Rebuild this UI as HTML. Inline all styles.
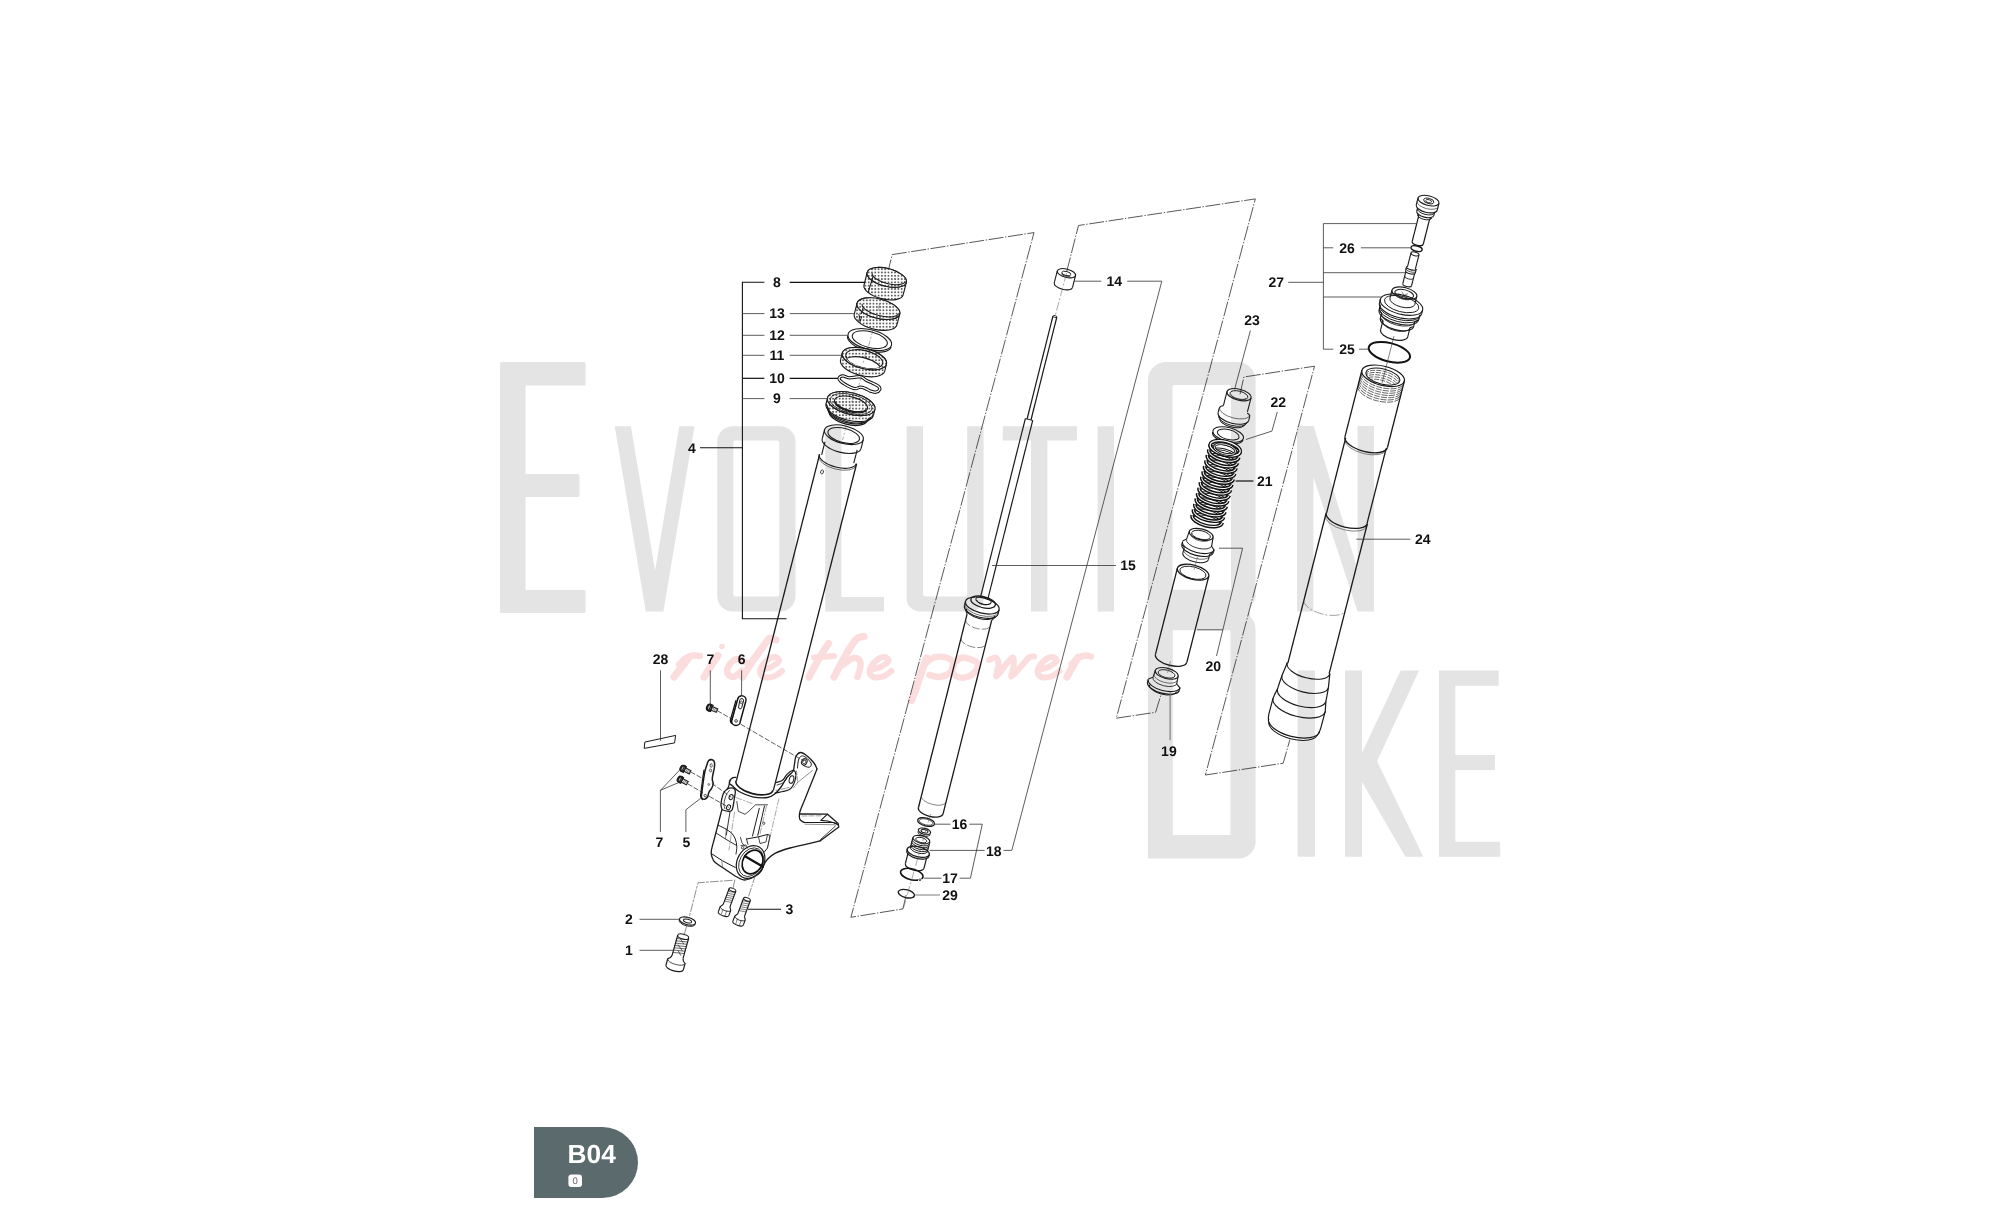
<!DOCTYPE html>
<html><head><meta charset="utf-8"><title>B04</title>
<style>html,body{margin:0;padding:0;background:#fff}body{width:2000px;height:1220px;overflow:hidden;font-family:"Liberation Sans",sans-serif}svg{display:block;will-change:transform}text{text-rendering:geometricPrecision}</style>
</head><body>
<svg width="2000" height="1220" viewBox="0 0 2000 1220">
<defs><pattern id="dots" width="3.3" height="3.3" patternUnits="userSpaceOnUse" patternTransform="rotate(-14.3)"><rect width="3.3" height="3.3" fill="#fff"/><rect x="0.8" y="0.8" width="1.75" height="1.75" fill="#606060"/></pattern></defs>
<g fill="#e4e4e4" fill-rule="evenodd">
<path d="M501.5 362H584a1.5 1.5 0 0 1 1.5 1.5V384a1.5 1.5 0 0 1 -1.5 1.5H525.6V474H578a1.5 1.5 0 0 1 1.5 1.5V495.5a1.5 1.5 0 0 1 -1.5 1.5H525.6V590H584a1.5 1.5 0 0 1 1.5 1.5V611.5a1.5 1.5 0 0 1 -1.5 1.5H501.5a1.5 1.5 0 0 1 -1.5 -1.5V363.5a1.5 1.5 0 0 1 1.5 -1.5Z"/>
<path d="M614.7 426.2H630.9L655.1 570.7L679.3 426.2H694.5L663.4 611.6H645.8Z"/>
<path d="M732.7 426.2H780A15.5 15.5 0 0 1 795.5 441.7V596A15.5 15.5 0 0 1 780 611.5H732.7A15.5 15.5 0 0 1 717.2 596V441.7A15.5 15.5 0 0 1 732.7 426.2ZM735.8 440.6H776.8A2.5 2.5 0 0 1 779.3 443.1V594.1A2.5 2.5 0 0 1 776.8 596.6H735.8A2.5 2.5 0 0 1 733.3 594.1V443.1A2.5 2.5 0 0 1 735.8 440.6Z"/>
<path d="M825.2 426.2H841.4V597H884V611.4H825.2Z"/>
<path d="M906.6 426.2H923V593.6A3 3 0 0 0 926 596.6H964.2A3 3 0 0 0 967.2 593.6V426.2H983.6V598.4A13 13 0 0 1 970.6 611.4H919.6A13 13 0 0 1 906.6 598.4Z"/>
<path d="M1002.8 426.2H1076.9V440.6H1047.4V611.4H1031V440.6H1002.8Z"/>
<path d="M1097.6 426.2H1114V611.4H1097.6Z"/>
<path d="M1166.4 361.9H1237.1A18.5 18.5 0 0 1 1255.6 380.4V596Q1255.6 602 1251 604Q1249.6 606 1249.6 609V612Q1249.6 617 1253 620Q1255.6 624 1255.6 632V841.6A17 17 0 0 1 1238.6 858.6H1147.9V380.4A18.5 18.5 0 0 1 1166.4 361.9ZM1174 385H1229.5A1.5 1.5 0 0 1 1231 386.5V589.8H1172.5V386.5A1.5 1.5 0 0 1 1174 385ZM1172.8 630.2H1230.4V835H1172.8Z"/>
<path d="M1297 426H1313.6L1357.6 569V426H1374V611.4H1357.6L1313.4 477V611.4H1297Z"/>
<path d="M1297.6 670.4H1314.9V856.8H1297.6Z"/>
<path d="M1345 670.4H1362V752.7L1400.7 670.4H1419.1L1377.1 761.2L1423.3 856.8H1405.4L1362 782V856.8H1345Z"/>
<path d="M1438.9 670.4H1498.7V685.8H1455.3V755H1494.9V770H1455.3V841.7H1500.2V856.8H1438.9Z"/>
</g>
<g><path d="M674 677C675.17 675.5 678.5 671.25 681 668C683.5 664.75 687.67 659.25 689 657.5" fill="none" stroke="#fbdddd" stroke-width="7.2" stroke-linejoin="round" stroke-linecap="round" /><path d="M679 664.5C680.17 663.42 683.67 659.5 686 658C688.33 656.5 690.67 655.83 693 655.5C695.33 655.17 698.83 655.92 700 656" fill="none" stroke="#fbdddd" stroke-width="6.4" stroke-linejoin="round" stroke-linecap="round" /><path d="M704 677C705.17 675.17 708.67 669.58 711 666C713.33 662.42 716.83 657.25 718 655.5" fill="none" stroke="#fbdddd" stroke-width="7.2" stroke-linejoin="round" stroke-linecap="round" /><circle cx="722" cy="646.5" r="2.8" fill="#fbdddd"/><path d="M746 662.5C744.5 661.92 739.83 658.5 737 659C734.17 659.5 730.58 663.08 729 665.5C727.42 667.92 726.75 671.58 727.5 673.5C728.25 675.42 731.17 677.42 733.5 677C735.83 676.58 740.17 672 741.5 671" fill="none" stroke="#fbdddd" stroke-width="6.4" stroke-linejoin="round" stroke-linecap="round" /><path d="M742.5 677C744.08 674.5 748.75 666.83 752 662C755.25 657.17 759.08 651.92 762 648C764.92 644.08 767.17 639.83 769.5 638.5C771.83 637.17 774.92 639.75 776 640" fill="none" stroke="#fbdddd" stroke-width="7.2" stroke-linejoin="round" stroke-linecap="round" /><path d="M762 669.5C763.5 669.08 768.17 668.42 771 667C773.83 665.58 778.33 662.67 779 661C779.67 659.33 776.83 657.25 775 657C773.17 656.75 770.25 657.83 768 659.5C765.75 661.17 762.75 664.58 761.5 667C760.25 669.42 759.75 672.25 760.5 674C761.25 675.75 763.58 677.17 766 677.5C768.42 677.83 772.33 677.08 775 676C777.67 674.92 780.83 671.83 782 671" fill="none" stroke="#fbdddd" stroke-width="6.0" stroke-linejoin="round" stroke-linecap="round" /><path d="M809 677C810.17 674.83 813.67 668.17 816 664C818.33 659.83 820.92 655.42 823 652C825.08 648.58 827.58 644.92 828.5 643.5" fill="none" stroke="#fbdddd" stroke-width="7.2" stroke-linejoin="round" stroke-linecap="round" /><path d="M814 657.5C815.67 657.38 820.67 657.05 824 656.8C827.33 656.55 832.33 656.13 834 656" fill="none" stroke="#fbdddd" stroke-width="5.8" stroke-linejoin="round" stroke-linecap="round" /><path d="M834 677C835.33 674.5 839.33 666.83 842 662C844.67 657.17 847.5 651.92 850 648C852.5 644.08 854.67 640.42 857 638.5C859.33 636.58 862.83 636.83 864 636.5" fill="none" stroke="#fbdddd" stroke-width="7.2" stroke-linejoin="round" stroke-linecap="round" /><path d="M843 665C844.5 663.92 849.33 659.42 852 658.5C854.67 657.58 857.58 658.25 859 659.5C860.42 660.75 860.75 663.08 860.5 666C860.25 668.92 858 675.17 857.5 677" fill="none" stroke="#fbdddd" stroke-width="6.4" stroke-linejoin="round" stroke-linecap="round" /><path d="M871.5 669.5C873 669.08 877.67 668.42 880.5 667C883.33 665.58 887.83 662.67 888.5 661C889.17 659.33 886.33 657.25 884.5 657C882.67 656.75 879.75 657.83 877.5 659.5C875.25 661.17 872.25 664.58 871 667C869.75 669.42 869.25 672.25 870 674C870.75 675.75 873.08 677.17 875.5 677.5C877.92 677.83 881.83 677.08 884.5 676C887.17 674.92 890.33 671.83 891.5 671" fill="none" stroke="#fbdddd" stroke-width="6.0" stroke-linejoin="round" stroke-linecap="round" /><path d="M911.5 700.5C912.42 698.08 915.25 690.92 917 686C918.75 681.08 920.42 675.67 922 671C923.58 666.33 925.75 660.17 926.5 658" fill="none" stroke="#fbdddd" stroke-width="7.2" stroke-linejoin="round" stroke-linecap="round" /><path d="M924 664.5C925.67 663.33 930.33 658.67 934 657.5C937.67 656.33 942.75 656.58 946 657.5C949.25 658.42 952.75 660.58 953.5 663C954.25 665.42 952.75 669.67 950.5 672C948.25 674.33 943.5 676.5 940 677C936.5 677.5 931.25 675.33 929.5 675" fill="none" stroke="#fbdddd" stroke-width="6.4" stroke-linejoin="round" stroke-linecap="round" /><path d="M973.5 660.5C971.08 659.58 966.17 657.08 963 657.5C959.83 657.92 956.25 660.67 954.5 663C952.75 665.33 951.92 669.17 952.5 671.5C953.08 673.83 955.33 676.17 958 677C960.67 677.83 965.42 677.67 968.5 676.5C971.58 675.33 975 672.25 976.5 670C978 667.75 978 664.58 977.5 663C977 661.42 975.92 661.42 973.5 660.5Z" fill="none" stroke="#fbdddd" stroke-width="6.4" stroke-linejoin="round" stroke-linecap="round" /><path d="M989 660C990.08 659.58 993.92 656.83 995.5 657.5C997.08 658.17 998.33 660.83 998.5 664C998.67 667.17 995.25 676.42 996.5 676.5C997.75 676.58 1003.25 667.67 1006 664.5C1008.75 661.33 1011.75 657.08 1013 657.5C1014.25 657.92 1013.75 663.83 1013.5 667C1013.25 670.17 1010.17 676.67 1011.5 676.5C1012.83 676.33 1018.58 669.17 1021.5 666C1024.42 662.83 1026.92 659.08 1029 657.5C1031.08 655.92 1033.17 656.67 1034 656.5" fill="none" stroke="#fbdddd" stroke-width="6.0" stroke-linejoin="round" stroke-linecap="round" /><path d="M1039.5 669.5C1041 669.08 1045.67 668.42 1048.5 667C1051.33 665.58 1055.83 662.67 1056.5 661C1057.17 659.33 1054.33 657.25 1052.5 657C1050.67 656.75 1047.75 657.83 1045.5 659.5C1043.25 661.17 1040.25 664.58 1039 667C1037.75 669.42 1037.25 672.25 1038 674C1038.75 675.75 1041.08 677.17 1043.5 677.5C1045.92 677.83 1049.83 677.08 1052.5 676C1055.17 674.92 1058.33 671.83 1059.5 671" fill="none" stroke="#fbdddd" stroke-width="6.0" stroke-linejoin="round" stroke-linecap="round" /><path d="M1067 677C1067.83 675.42 1070.17 670.75 1072 667.5C1073.83 664.25 1077 659.17 1078 657.5" fill="none" stroke="#fbdddd" stroke-width="7.2" stroke-linejoin="round" stroke-linecap="round" /><path d="M1071.5 664C1072.58 663 1075.75 659.42 1078 658C1080.25 656.58 1082.83 655.75 1085 655.5C1087.17 655.25 1090 656.33 1091 656.5" fill="none" stroke="#fbdddd" stroke-width="6.4" stroke-linejoin="round" stroke-linecap="round" /></g>
<path d="M887.4 274 L892.2 254.6 L1034 232.6 L850.9 917.3 L902.9 908.9 L906.4 894" fill="none" stroke="#222" stroke-width="0.75" stroke-dasharray="15 1.6 1.4 1.6"/><path d="M1066.6 272 L1078.5 225.5 L1255.3 198.9 L1116.3 718.2 L1155.6 712.3 L1161.5 693.1" fill="none" stroke="#222" stroke-width="0.75" stroke-dasharray="15 1.6 1.4 1.6"/><path d="M1240 394.2 L1243.9 377 L1314.5 366.2 L1205.4 775 L1283.2 763.2 L1289.9 739.6" fill="none" stroke="#222" stroke-width="0.75" stroke-dasharray="15 1.6 1.4 1.6"/>
<defs><clipPath id="c11"><ellipse cx="0" cy="0.4" rx="19" ry="8.36"/></clipPath><clipPath id="c24"><ellipse cx="0" cy="0.8" rx="17.4" ry="7.66"/></clipPath></defs><g transform="translate(886.8,277.4) rotate(14.3)"><path d="M-20.2 0L-20.2 13A20.2 8.89 0 0 0 20.2 13L20.2 0A20.2 8.89 0 0 0 -20.2 0Z" fill="url(#dots)" stroke="none"/><ellipse cx="0" cy="0" rx="20.2" ry="8.89" fill="none" stroke="#1a1a1a" stroke-width="1.1" /><line x1="-20.2" y1="0" x2="-20.2" y2="13" stroke="#1a1a1a" stroke-width="1.1" /><line x1="20.2" y1="0" x2="20.2" y2="13" stroke="#1a1a1a" stroke-width="1.1" /><path d="M-20.2 13A20.2 8.89 0 0 0 20.2 13" fill="none" stroke="#1a1a1a" stroke-width="1.1" /><ellipse cx="0" cy="0" rx="20.2" ry="8.89" fill="url(#dots)" stroke="#1a1a1a" stroke-width="1.1" /><path d="M-15.2 -0.6A17 6.4 0 0 0 18.8 -0.6" fill="none" stroke="#1a1a1a" stroke-width="1.1" /><line x1="-13.6" y1="2.6" x2="-14.4" y2="19.4" stroke="#1a1a1a" stroke-width="1.1" /></g>
<g transform="translate(878.4,308.6) rotate(14.3)"><path d="M-22 0L-22 11.3A22 9.68 0 0 0 22 11.3L22 0A22 9.68 0 0 0 -22 0Z" fill="url(#dots)" stroke="none"/><ellipse cx="0" cy="0" rx="22" ry="9.68" fill="none" stroke="#1a1a1a" stroke-width="1.1" /><line x1="-22" y1="0" x2="-22" y2="11.3" stroke="#1a1a1a" stroke-width="1.1" /><line x1="22" y1="0" x2="22" y2="11.3" stroke="#1a1a1a" stroke-width="1.1" /><path d="M-22 11.3A22 9.68 0 0 0 22 11.3" fill="none" stroke="#1a1a1a" stroke-width="1.1" /><ellipse cx="0" cy="0" rx="22" ry="9.68" fill="url(#dots)" stroke="#1a1a1a" stroke-width="1.1" /><path d="M-16.8 -0.4A18.8 7 0 0 0 20.8 -0.4" fill="none" stroke="#1a1a1a" stroke-width="1.1" /><path d="M-15 3.2 L-15.4 9.5 M-17.8 10.5Q-15.6 12 -16 17.4 M-14.2 11.4L-14.6 18.2" fill="none" stroke="#1a1a1a" stroke-width="1.0" /></g>
<line x1="879.5" y1="304" x2="877.6" y2="311.5" stroke="#555" stroke-width="0.5" stroke-dasharray="7 2 2 2"/><g transform="translate(869.8,339.6) rotate(14.3)"><ellipse cx="0" cy="0" rx="22.4" ry="9.86" fill="none" stroke="#1a1a1a" stroke-width="1.1" /><ellipse cx="0" cy="0" rx="18" ry="7.92" fill="none" stroke="#1a1a1a" stroke-width="1.1" /><path d="M-22.4 1.7A22.4 9.86 0 0 0 22.4 1.7" fill="none" stroke="#1a1a1a" stroke-width="1.1" /></g>
<line x1="873.5" y1="328" x2="868.6" y2="346" stroke="#555" stroke-width="0.5" stroke-dasharray="7 2 2 2"/><g transform="translate(864.4,358.6) rotate(14.3)"><path d="M-22.8 0L-22.8 7.2A22.8 10.03 0 0 0 22.8 7.2L22.8 0A22.8 10.03 0 0 0 -22.8 0Z" fill="url(#dots)" stroke="none"/><ellipse cx="0" cy="0" rx="22.8" ry="10.03" fill="none" stroke="#1a1a1a" stroke-width="1.1" /><line x1="-22.8" y1="0" x2="-22.8" y2="7.2" stroke="#1a1a1a" stroke-width="1.1" /><line x1="22.8" y1="0" x2="22.8" y2="7.2" stroke="#1a1a1a" stroke-width="1.1" /><path d="M-22.8 7.2A22.8 10.03 0 0 0 22.8 7.2" fill="none" stroke="#1a1a1a" stroke-width="1.1" /><ellipse cx="0" cy="0" rx="22.8" ry="10.03" fill="url(#dots)" stroke="#1a1a1a" stroke-width="1.1" /><ellipse cx="0" cy="0.4" rx="19" ry="8.36" fill="url(#dots)" stroke="#1a1a1a" stroke-width="1.1" /><g clip-path="url(#c11)"><ellipse cx="0" cy="7.6" rx="19" ry="8.36" fill="#fff" stroke="#1a1a1a" stroke-width="1.1" /></g></g>
<line x1="866" y1="352" x2="863" y2="364" stroke="#555" stroke-width="0.5" stroke-dasharray="7 2 2 2"/><path d="M839 378.3C839.35 377.45 841.02 375.98 842.7 375.9C844.38 375.82 846.8 377.62 849.1 377.8C851.4 377.98 854.47 377.13 856.5 377C858.53 376.87 859.7 376.47 861.3 377C862.9 377.53 864.13 379.13 866.1 380.2C868.07 381.27 871.05 382.38 873.1 383.4C875.15 384.42 877.3 385.28 878.4 386.3C879.5 387.32 880.15 388.52 879.7 389.5C879.25 390.48 877.25 391.93 875.7 392.2C874.15 392.47 872.17 391.73 870.4 391.1C868.63 390.47 866.78 389.07 865.1 388.4C863.42 387.73 861.9 387.05 860.3 387.1C858.7 387.15 857.18 388.7 855.5 388.7C853.82 388.7 851.98 387.85 850.2 387.1C848.42 386.35 846.4 385.22 844.8 384.2C843.2 383.18 841.57 381.98 840.6 381C839.63 380.02 838.65 379.15 839 378.3Z" fill="none" stroke="#111" stroke-width="3.3" stroke-linejoin="round" stroke-linecap="round" /><path d="M839 378.3C839.35 377.45 841.02 375.98 842.7 375.9C844.38 375.82 846.8 377.62 849.1 377.8C851.4 377.98 854.47 377.13 856.5 377C858.53 376.87 859.7 376.47 861.3 377C862.9 377.53 864.13 379.13 866.1 380.2C868.07 381.27 871.05 382.38 873.1 383.4C875.15 384.42 877.3 385.28 878.4 386.3C879.5 387.32 880.15 388.52 879.7 389.5C879.25 390.48 877.25 391.93 875.7 392.2C874.15 392.47 872.17 391.73 870.4 391.1C868.63 390.47 866.78 389.07 865.1 388.4C863.42 387.73 861.9 387.05 860.3 387.1C858.7 387.15 857.18 388.7 855.5 388.7C853.82 388.7 851.98 387.85 850.2 387.1C848.42 386.35 846.4 385.22 844.8 384.2C843.2 383.18 841.57 381.98 840.6 381C839.63 380.02 838.65 379.15 839 378.3Z" fill="none" stroke="#fff" stroke-width="1.3" stroke-linejoin="round" stroke-linecap="round" /><line x1="861.8" y1="374" x2="858" y2="389" stroke="#555" stroke-width="0.5" stroke-dasharray="7 2 2 2"/><g transform="translate(851.2,403.6) rotate(14.3)"><path d="M-24.4 0L-24.4 6.2A24.4 10.74 0 0 0 24.4 6.2L24.4 0A24.4 10.74 0 0 0 -24.4 0Z" fill="url(#dots)" stroke="none"/><ellipse cx="0" cy="0" rx="24.4" ry="10.74" fill="none" stroke="#1a1a1a" stroke-width="1.1" /><line x1="-24.4" y1="0" x2="-24.4" y2="6.2" stroke="#1a1a1a" stroke-width="1.1" /><line x1="24.4" y1="0" x2="24.4" y2="6.2" stroke="#1a1a1a" stroke-width="1.1" /><path d="M-24.4 6.2A24.4 10.74 0 0 0 24.4 6.2" fill="none" stroke="#1a1a1a" stroke-width="1.1" /><ellipse cx="0" cy="0" rx="24.4" ry="10.74" fill="url(#dots)" stroke="#1a1a1a" stroke-width="1.1" /><ellipse cx="0" cy="0.3" rx="21.3" ry="9.37" fill="none" stroke="#1a1a1a" stroke-width="0.8" /><ellipse cx="0" cy="0.8" rx="17" ry="7.48" fill="url(#dots)" stroke="#1a1a1a" stroke-width="1.1" /><path d="M-15.5 2A15.5 5.2 0 0 0 15.5 2" fill="none" stroke="#1a1a1a" stroke-width="1.3" /><path d="M-12.5 3.6A12.5 3.6 0 0 0 12.5 3.6" fill="none" stroke="#1a1a1a" stroke-width="0.8" /><path d="M-22.5 8.5A22.5 9.9 0 0 0 22.5 8.5" fill="none" stroke="#1a1a1a" stroke-width="1.1" /><path d="M-20.5 10.6A20.5 9.02 0 0 0 20.5 10.6" fill="none" stroke="#1a1a1a" stroke-width="1.1" /><path d="M-19.5 12.6A19.5 8.58 0 0 0 19.5 12.6" fill="none" stroke="#1a1a1a" stroke-width="1.4" /><path d="M-24.4 6.2L-22.5 8.5L-20.5 10.6L-19.5 12.6M24.4 6.2L22.5 8.5L20.5 10.6L19.5 12.6" fill="none" stroke="#1a1a1a" stroke-width="1.0" /></g>
<line x1="854.4" y1="391.5" x2="850" y2="409" stroke="#555" stroke-width="0.5" stroke-dasharray="7 2 2 2"/><g transform="translate(843.9,434.7) rotate(14.3)"><ellipse cx="0" cy="0" rx="20" ry="8.8" fill="none" stroke="#1a1a1a" stroke-width="1.1" /><ellipse cx="0" cy="0.8" rx="16.2" ry="7.13" fill="none" stroke="#1a1a1a" stroke-width="1.1" /><line x1="-20" y1="0" x2="-20" y2="9.2" stroke="#1a1a1a" stroke-width="1.1" /><line x1="20" y1="0" x2="20" y2="9.2" stroke="#1a1a1a" stroke-width="1.1" /><path d="M-20 9.2A20 8.8 0 0 0 20 9.2" fill="none" stroke="#1a1a1a" stroke-width="1.1" /><line x1="-16.6" y1="11.5" x2="-16.6" y2="25" stroke="#1a1a1a" stroke-width="1.1" /><line x1="16.6" y1="11.5" x2="16.6" y2="25" stroke="#1a1a1a" stroke-width="1.1" /><path d="M-19.1 25A19.1 8.4 0 0 0 19.1 25" fill="none" stroke="#1a1a1a" stroke-width="1.1" /><path d="M-19.1 27A19.1 8.4 0 0 0 19.1 27" fill="none" stroke="#444" stroke-width="0.7" /><line x1="-18.7" y1="25" x2="-18.7" y2="362" stroke="#1a1a1a" stroke-width="1.3" /><line x1="19.5" y1="25" x2="19.5" y2="362" stroke="#1a1a1a" stroke-width="1.3" /><ellipse cx="-12" cy="41.5" rx="1.4" ry="2" fill="none" stroke="#1a1a1a" stroke-width="0.8" /><path d="M-19.1 362A19.1 8.4 0 0 0 19.1 362" fill="none" stroke="#1a1a1a" stroke-width="1.6" /></g>
<line x1="846.6" y1="424" x2="842.6" y2="440" stroke="#555" stroke-width="0.5" stroke-dasharray="7 2 2 2"/><path d="M736 777.3C735.5 777.35 734 777.1 733 777.6C732 778.1 730.58 779.32 730 780.3C729.42 781.28 729.12 782.58 729.5 783.5C729.88 784.42 730.72 784.47 732.3 785.8C733.88 787.13 735.63 789.67 739 791.5C742.37 793.33 747.75 795.8 752.5 796.8C757.25 797.8 763.75 798 767.5 797.5C771.25 797 772.75 795.55 775 793.8C777.25 792.05 779 789.75 781 787C783 784.25 785 779.92 787 777.3C789 774.68 791.75 773.55 793 771.3C794.25 769.05 794 766.3 794.5 763.8C795 761.3 795 758.18 796 756.3C797 754.42 798.75 752.63 800.5 752.5C802.25 752.37 804.25 753.75 806.5 755.5C808.75 757.25 812.25 760.75 814 763C815.75 765.25 816.5 768 817 769" fill="none" stroke="#1a1a1a" stroke-width="1.3" stroke-linejoin="round" stroke-linecap="round" /><path d="M730 780.3C729.77 781.33 729.1 785 728.6 786.5C728.1 788 727.27 788.83 727 789.3" fill="none" stroke="#1a1a1a" stroke-width="1.2" stroke-linejoin="round" stroke-linecap="round" /><path d="M817 769C816 771.5 813 779 811 784C809 789 806.83 794.42 805 799C803.17 803.58 800.93 808.45 800 811.5C799.07 814.55 799.32 815.83 799.4 817.3C799.48 818.77 799.68 819.43 800.5 820.3C801.32 821.17 803.67 822.13 804.3 822.5" fill="none" stroke="#1a1a1a" stroke-width="1.3" stroke-linejoin="round" stroke-linecap="round" /><path d="M800.5 814 L827.5 814.2 L838.2 823.5 L838.8 827 L820 840.9" fill="none" stroke="#1a1a1a" stroke-width="1.3" stroke-linejoin="round" stroke-linecap="round" /><path d="M804.3 822.5 L833.5 822.5 L838.2 825" fill="none" stroke="#1a1a1a" stroke-width="1.1" stroke-linejoin="round" stroke-linecap="round" /><path d="M827.5 814.2 L820.8 820.4 L827.5 821 L836.5 823.5" fill="none" stroke="#1a1a1a" stroke-width="1.1" stroke-linejoin="round" stroke-linecap="round" /><path d="M805 824.2 L835 824.8" fill="none" stroke="#444" stroke-width="0.6" stroke-linejoin="round" stroke-linecap="round" /><path d="M835.5 826 L820.5 839.5" fill="none" stroke="#1a1a1a" stroke-width="0.8" stroke-linejoin="round" stroke-linecap="round" /><path d="M802 816 L822 815.8" fill="none" stroke="#444" stroke-width="0.5" stroke-linejoin="round" stroke-linecap="round" stroke-dasharray="5 2"/><path d="M820 840.9C815 842.08 797.5 845.93 790 848C782.5 850.07 778.75 851.42 775 853.3C771.25 855.18 769.25 857.55 767.5 859.3C765.75 861.05 765.25 862.55 764.5 863.8C763.75 865.05 763.25 866.3 763 866.8" fill="none" stroke="#1a1a1a" stroke-width="1.3" stroke-linejoin="round" stroke-linecap="round" /><path d="M763 866.8C762.75 867.42 762.5 869.13 761.5 870.5C760.5 871.87 759 873.62 757 875C755 876.38 751.75 877.98 749.5 878.8C747.25 879.62 745.75 880.28 743.5 879.9C741.25 879.52 739.12 878.32 736 876.5C732.88 874.68 728.3 871.37 724.8 869C721.3 866.63 717.13 864.3 715 862.3C712.87 860.3 712.62 858.88 712 857C711.38 855.12 710.92 854 711.3 851C711.68 848 713.18 843.37 714.3 839C715.42 834.63 716.75 829.67 718 824.8C719.25 819.93 721.17 812.3 721.8 809.8" fill="none" stroke="#1a1a1a" stroke-width="1.3" stroke-linejoin="round" stroke-linecap="round" /><g transform="translate(750.6,862) rotate(30)"><ellipse cx="0" cy="0" rx="13.2" ry="17.2" fill="none" stroke="#1a1a1a" stroke-width="1.2" /><ellipse cx="0.4" cy="0" rx="11.2" ry="15.2" fill="none" stroke="#1a1a1a" stroke-width="0.8" /></g><g transform="translate(752.6,862) rotate(30)"><ellipse cx="0" cy="0" rx="9.8" ry="12.4" fill="none" stroke="#111" stroke-width="1.7" /></g><path d="M745 856.3 L763 866.8" fill="none" stroke="#111" stroke-width="2.2" stroke-linejoin="round" stroke-linecap="round" /><path d="M721.8 808.8C721.47 807.72 720.75 806 721 803.5C721.25 801 722.3 796.17 723.3 793.8C724.3 791.43 725.38 790.25 727 789.3C728.62 788.35 731.62 787.85 733 788.1C734.38 788.35 735.05 789.23 735.3 790.8C735.55 792.37 735 794.38 734.5 797.5C734 800.62 733.3 807.18 732.3 809.5C731.3 811.82 730.05 811.32 728.5 811.4C726.95 811.48 724.12 810.43 723 810C721.88 809.57 722.13 809.88 721.8 808.8Z" fill="none" stroke="#1a1a1a" stroke-width="1.3" stroke-linejoin="round" stroke-linecap="round" /><path d="M724.8 808.5C724.67 807.67 723.77 805.75 724 803.5C724.23 801.25 725.28 797.17 726.2 795C727.12 792.83 728.95 791.25 729.5 790.5" fill="none" stroke="#1a1a1a" stroke-width="0.8" stroke-linejoin="round" stroke-linecap="round" /><g transform="translate(731.1,797.1) rotate(25)"><ellipse cx="0" cy="0" rx="1.9" ry="2.6" fill="none" stroke="#1a1a1a" stroke-width="1.0" /></g><g transform="translate(728.5,807.3) rotate(25)"><ellipse cx="0" cy="0" rx="1.9" ry="2.6" fill="none" stroke="#1a1a1a" stroke-width="1.0" /></g><path d="M776.5 782.5C777.5 782.13 780.75 781.67 782.5 780.3C784.25 778.93 785.37 775.93 787 774.3C788.63 772.67 790.92 770.88 792.3 770.5C793.68 770.12 794.75 770.75 795.3 772C795.85 773.25 795.98 775.75 795.6 778C795.22 780.25 794.18 783.5 793 785.5C791.82 787.5 791.5 788.72 788.5 790C785.5 791.28 777.25 792.67 775 793.2" fill="none" stroke="#1a1a1a" stroke-width="1.2" stroke-linejoin="round" stroke-linecap="round" /><path d="M777 785C778.08 784.58 781.67 783.92 783.5 782.5C785.33 781.08 786.67 778 788 776.5C789.33 775 790.92 774 791.5 773.5" fill="none" stroke="#1a1a1a" stroke-width="0.8" stroke-linejoin="round" stroke-linecap="round" /><g transform="translate(791.5,779.5) rotate(15)"><ellipse cx="0" cy="0" rx="2.2" ry="3.9" fill="none" stroke="#1a1a1a" stroke-width="1.0" /></g><g transform="translate(804.3,761.9) rotate(30)"><ellipse cx="0" cy="0" rx="2.6" ry="3.3" fill="none" stroke="#1a1a1a" stroke-width="1.0" /><ellipse cx="0" cy="0" rx="1.5" ry="2" fill="none" stroke="#1a1a1a" stroke-width="0.8" /></g><path d="M797.5 768C797.67 766.67 797.83 762 798.5 760C799.17 758 800.25 756.42 801.5 756C802.75 755.58 804.42 756.33 806 757.5C807.58 758.67 810.25 761.5 811 763C811.75 764.5 811.08 765.8 810.5 766.5C809.92 767.2 808.67 767.37 807.5 767.2C806.33 767.03 804.17 765.78 803.5 765.5" fill="none" stroke="#1a1a1a" stroke-width="1.0" stroke-linejoin="round" stroke-linecap="round" /><path d="M797.5 782.5 L812.5 770.5" fill="none" stroke="#444" stroke-width="0.6" stroke-linejoin="round" stroke-linecap="round" /><path d="M796.5 771 L797.5 782.5 L793.5 788" fill="none" stroke="#444" stroke-width="0.6" stroke-linejoin="round" stroke-linecap="round" stroke-dasharray="4 1.5"/><path d="M776 790.5 L789 787.5" fill="none" stroke="#444" stroke-width="0.6" stroke-linejoin="round" stroke-linecap="round" stroke-dasharray="4 1.5"/><path d="M730 811.8 L726.3 835" fill="none" stroke="#1a1a1a" stroke-width="0.9" stroke-linejoin="round" stroke-linecap="round" /><path d="M718 825.1C719.13 825.67 722.55 827.18 724.8 828.5C727.05 829.82 729.75 831.25 731.5 833C733.25 834.75 734.42 836.75 735.3 839C736.18 841.25 736.68 844 736.8 846.5C736.92 849 736.13 852.75 736 854" fill="none" stroke="#1a1a1a" stroke-width="1.0" stroke-linejoin="round" stroke-linecap="round" /><path d="M716.1 833 L725.5 839 L736.5 845.5" fill="none" stroke="#1a1a1a" stroke-width="0.9" stroke-linejoin="round" stroke-linecap="round" /><path d="M712 854 L722.5 860.8 L735.3 867.5" fill="none" stroke="#1a1a1a" stroke-width="1.0" stroke-linejoin="round" stroke-linecap="round" /><path d="M726.3 828.5 L725.5 839" fill="none" stroke="#444" stroke-width="0.6" stroke-linejoin="round" stroke-linecap="round" /><path d="M721.8 861.5 L722.5 866.5" fill="none" stroke="#444" stroke-width="0.6" stroke-linejoin="round" stroke-linecap="round" /><path d="M736.8 801.5 L738.3 811.3 L745 814.3 L748.8 811.3 L755.5 804.8 L767.5 804.8" fill="none" stroke="#1a1a1a" stroke-width="0.8" stroke-linejoin="round" stroke-linecap="round" /><path d="M759.3 808.3 L752.5 836" fill="none" stroke="#1a1a1a" stroke-width="1.0" stroke-linejoin="round" stroke-linecap="round" /><path d="M764.5 806 L757.8 835.3" fill="none" stroke="#1a1a1a" stroke-width="1.0" stroke-linejoin="round" stroke-linecap="round" /><path d="M746.5 839 L758.5 836.8 L767.5 834.5 L770.1 835.3 L767.5 848 L764.5 851.8" fill="none" stroke="#1a1a1a" stroke-width="1.0" stroke-linejoin="round" stroke-linecap="round" /><path d="M746.5 839 L748 844.3" fill="none" stroke="#1a1a1a" stroke-width="0.9" stroke-linejoin="round" stroke-linecap="round" /><path d="M758.5 836.8 L760 843.5 L766 842 L767.5 834.5" fill="none" stroke="#1a1a1a" stroke-width="0.8" stroke-linejoin="round" stroke-linecap="round" /><path d="M740.5 837.5 L742 842.8 L745 846.5" fill="none" stroke="#1a1a1a" stroke-width="0.8" stroke-linejoin="round" stroke-linecap="round" /><path d="M741 845.5 L746 845 L747.5 848" fill="none" stroke="#1a1a1a" stroke-width="0.8" stroke-linejoin="round" stroke-linecap="round" /><ellipse cx="742.5" cy="847.6" rx="1.2" ry="1.2" fill="none" stroke="#1a1a1a" stroke-width="0.8" /><ellipse cx="763.8" cy="823.3" rx="1.1" ry="1.1" fill="none" stroke="#1a1a1a" stroke-width="0.7" /><path d="M736 797.5 L752 803.5" fill="none" stroke="#555" stroke-width="0.5" stroke-linejoin="round" stroke-linecap="round" stroke-dasharray="6 2 1.5 2"/><path d="M734.5 812 L729 850" fill="none" stroke="#555" stroke-width="0.5" stroke-linejoin="round" stroke-linecap="round" stroke-dasharray="6 2 1.5 2"/><path d="M778.8 799 L768 846" fill="none" stroke="#555" stroke-width="0.5" stroke-linejoin="round" stroke-linecap="round" stroke-dasharray="6 2 1.5 2"/><path d="M766.5 806 L760 834" fill="none" stroke="#555" stroke-width="0.5" stroke-linejoin="round" stroke-linecap="round" stroke-dasharray="6 2 1.5 2"/><path d="M645.2 742 L675.6 735.4 L674.6 742.9 L644.6 748.3Z" fill="none" stroke="#1a1a1a" stroke-width="1.0" stroke-linejoin="round" stroke-linecap="round" /><g transform="translate(709.6,707.6) rotate(22)"><ellipse cx="0" cy="0" rx="2.2" ry="3.4" fill="#bbb" stroke="#1a1a1a" stroke-width="1.6" /><ellipse cx="-1.2" cy="0" rx="1.8" ry="3.2" fill="none" stroke="#1a1a1a" stroke-width="1.2" /><path d="M0 -3.4H2.5V-2H8V2H2.5V3.4H0" fill="none" stroke="#1a1a1a" stroke-width="1.0" /><path d="M4 -2V2M5.5 -2V2M7 -2V2" fill="none" stroke="#1a1a1a" stroke-width="0.5" /></g><path d="M717.5 710.8 L732.6 719.5" fill="none" stroke="#1a1a1a" stroke-width="0.7" stroke-linejoin="round" stroke-linecap="round" stroke-dasharray="4.5 2.5"/><path d="M741 724.4 L803 760.5" fill="none" stroke="#1a1a1a" stroke-width="0.7" stroke-linejoin="round" stroke-linecap="round" stroke-dasharray="4.5 2.5"/><g transform="translate(739.3,711.2) rotate(12.5)"><path d="M-4.2 -11.5A4.2 4.2 0 0 1 4.2 -11.5L3.2 9.5A3.8 3.8 0 0 1 -5.4 11.2Z" fill="none" stroke="#111" stroke-width="1.5"/><path d="M-1.9 -11A1.9 1.9 0 0 1 1.9 -11L1.6 -4A1.6 1.6 0 0 1 -1.6 -4Z" fill="none" stroke="#111" stroke-width="0.9"/><path d="M-5.6 -10L-6.8 10.5A3.5 3.5 0 0 0 -4.2 13.6" fill="none" stroke="#111" stroke-width="1.2"/><ellipse cx="-1" cy="10.2" rx="1.3" ry="1.3" fill="none" stroke="#1a1a1a" stroke-width="0.8" /><ellipse cx="0.1" cy="-9" rx="1" ry="1.4" fill="none" stroke="#1a1a1a" stroke-width="0.6" /></g><g transform="translate(683,768.6) rotate(28)"><ellipse cx="0" cy="0" rx="2" ry="3.2" fill="#bbb" stroke="#1a1a1a" stroke-width="1.5" /><ellipse cx="-1.2" cy="0" rx="1.7" ry="3" fill="none" stroke="#1a1a1a" stroke-width="1.1" /><path d="M0 -3.2H2.2V-1.9H8V1.9H2.2V3.2H0" fill="none" stroke="#1a1a1a" stroke-width="1.0" /><path d="M4 -1.9V1.9M5.5 -1.9V1.9M7 -1.9V1.9" fill="none" stroke="#1a1a1a" stroke-width="0.5" /></g><g transform="translate(680.3,779.5) rotate(28)"><ellipse cx="0" cy="0" rx="2" ry="3.2" fill="#bbb" stroke="#1a1a1a" stroke-width="1.5" /><ellipse cx="-1.2" cy="0" rx="1.7" ry="3" fill="none" stroke="#1a1a1a" stroke-width="1.1" /><path d="M0 -3.2H2.2V-1.9H8V1.9H2.2V3.2H0" fill="none" stroke="#1a1a1a" stroke-width="1.0" /><path d="M4 -1.9V1.9M5.5 -1.9V1.9M7 -1.9V1.9" fill="none" stroke="#1a1a1a" stroke-width="0.5" /></g><path d="M690.8 772 L703 778.7" fill="none" stroke="#1a1a1a" stroke-width="0.7" stroke-linejoin="round" stroke-linecap="round" stroke-dasharray="4.5 2.5"/><path d="M712 783.5 L731 797" fill="none" stroke="#1a1a1a" stroke-width="0.7" stroke-linejoin="round" stroke-linecap="round" stroke-dasharray="4.5 2.5"/><path d="M688 784 L702.5 792.5" fill="none" stroke="#1a1a1a" stroke-width="0.7" stroke-linejoin="round" stroke-linecap="round" stroke-dasharray="4.5 2.5"/><path d="M709.5 796.5 L728.4 807.2" fill="none" stroke="#1a1a1a" stroke-width="0.7" stroke-linejoin="round" stroke-linecap="round" stroke-dasharray="4.5 2.5"/><path d="M706.5 766C707.08 764.3 707.55 761.83 708.5 760.8C709.45 759.77 711.2 759.52 712.2 759.8C713.2 760.08 714.15 761.13 714.5 762.5C714.85 763.87 714.62 765.75 714.3 768C713.98 770.25 712.93 774 712.6 776C712.27 778 712.2 778.75 712.3 780C712.4 781.25 713.28 782.17 713.2 783.5C713.12 784.83 712.5 786.58 711.8 788C711.1 789.42 709.72 790.5 709 792C708.28 793.5 708.25 795.8 707.5 797C706.75 798.2 705.5 799.12 704.5 799.2C703.5 799.28 701.92 798.78 701.5 797.5C701.08 796.22 701.67 794.42 702 791.5C702.33 788.58 703 783.42 703.5 780C704 776.58 704.5 773.33 705 771C705.5 768.67 705.92 767.7 706.5 766Z" fill="none" stroke="#1a1a1a" stroke-width="1.5" stroke-linejoin="round" stroke-linecap="round" /><path d="M704 770C703.75 771.67 703 776.33 702.5 780C702 783.67 701.32 789.25 701 792C700.68 794.75 700.35 795.23 700.6 796.5C700.85 797.77 702.18 799.08 702.5 799.6" fill="none" stroke="#1a1a1a" stroke-width="1.2" stroke-linejoin="round" stroke-linecap="round" /><ellipse cx="711.2" cy="765.5" rx="1.1" ry="1.8" fill="none" stroke="#1a1a1a" stroke-width="0.7" /><ellipse cx="710.6" cy="770.5" rx="1" ry="1.5" fill="none" stroke="#1a1a1a" stroke-width="0.7" /><ellipse cx="708.8" cy="784.5" rx="0.9" ry="0.9" fill="none" stroke="#1a1a1a" stroke-width="0.6" /><ellipse cx="705.2" cy="795.6" rx="1.2" ry="1.2" fill="none" stroke="#1a1a1a" stroke-width="0.7" /><g transform="translate(732.5,889.8) rotate(20.5)"><ellipse cx="0" cy="0" rx="3.6" ry="1.5" fill="none" stroke="#1a1a1a" stroke-width="0.9" /><line x1="-3.6" y1="0" x2="-3.6" y2="17" stroke="#1a1a1a" stroke-width="1.1" /><line x1="3.6" y1="0" x2="3.6" y2="17" stroke="#1a1a1a" stroke-width="1.1" /><line x1="-3.6" y1="2.9" x2="3.6" y2="1.7" stroke="#1a1a1a" stroke-width="0.5" /><line x1="-3.6" y1="5" x2="3.6" y2="3.8" stroke="#1a1a1a" stroke-width="0.5" /><line x1="-3.6" y1="7.1" x2="3.6" y2="5.9" stroke="#1a1a1a" stroke-width="0.5" /><line x1="-3.6" y1="9.2" x2="3.6" y2="8" stroke="#1a1a1a" stroke-width="0.5" /><line x1="-3.6" y1="11.3" x2="3.6" y2="10.1" stroke="#1a1a1a" stroke-width="0.5" /><line x1="-3.6" y1="13.4" x2="3.6" y2="12.2" stroke="#1a1a1a" stroke-width="0.5" /><path d="M-3.6 17L-5.6 20V25.5M3.6 17L5.6 20V25.5" fill="none" stroke="#1a1a1a" stroke-width="1.1" /><path d="M-5.6 20A5.6 2.2 0 0 0 5.6 20" fill="none" stroke="#1a1a1a" stroke-width="0.8" /><path d="M-5.6 25.5A5.6 2.2 0 0 0 5.6 25.5" fill="none" stroke="#1a1a1a" stroke-width="1.1" /><path d="M-2 21.5V27.2M2 21.5V27.4" fill="none" stroke="#1a1a1a" stroke-width="0.5" /></g>
<g transform="translate(747,899.3) rotate(20.5)"><ellipse cx="0" cy="0" rx="3.6" ry="1.5" fill="none" stroke="#1a1a1a" stroke-width="0.9" /><line x1="-3.6" y1="0" x2="-3.6" y2="17" stroke="#1a1a1a" stroke-width="1.1" /><line x1="3.6" y1="0" x2="3.6" y2="17" stroke="#1a1a1a" stroke-width="1.1" /><line x1="-3.6" y1="2.9" x2="3.6" y2="1.7" stroke="#1a1a1a" stroke-width="0.5" /><line x1="-3.6" y1="5" x2="3.6" y2="3.8" stroke="#1a1a1a" stroke-width="0.5" /><line x1="-3.6" y1="7.1" x2="3.6" y2="5.9" stroke="#1a1a1a" stroke-width="0.5" /><line x1="-3.6" y1="9.2" x2="3.6" y2="8" stroke="#1a1a1a" stroke-width="0.5" /><line x1="-3.6" y1="11.3" x2="3.6" y2="10.1" stroke="#1a1a1a" stroke-width="0.5" /><line x1="-3.6" y1="13.4" x2="3.6" y2="12.2" stroke="#1a1a1a" stroke-width="0.5" /><path d="M-3.6 17L-5.6 20V25.5M3.6 17L5.6 20V25.5" fill="none" stroke="#1a1a1a" stroke-width="1.1" /><path d="M-5.6 20A5.6 2.2 0 0 0 5.6 20" fill="none" stroke="#1a1a1a" stroke-width="0.8" /><path d="M-5.6 25.5A5.6 2.2 0 0 0 5.6 25.5" fill="none" stroke="#1a1a1a" stroke-width="1.1" /><path d="M-2 21.5V27.2M2 21.5V27.4" fill="none" stroke="#1a1a1a" stroke-width="0.5" /></g>
<g transform="translate(687.5,921) rotate(15)"><ellipse cx="0" cy="0" rx="8.3" ry="3.6" fill="none" stroke="#1a1a1a" stroke-width="1.2" /><ellipse cx="0" cy="0" rx="4.2" ry="1.7" fill="none" stroke="#1a1a1a" stroke-width="1.0" /><path d="M-8.3 1.3A8.3 3.6 0 0 0 8.3 1.3" fill="none" stroke="#1a1a1a" stroke-width="0.9" /></g>
<g transform="translate(683.2,936.6) rotate(15.5)"><ellipse cx="0" cy="0" rx="5.7" ry="2.4" fill="none" stroke="#1a1a1a" stroke-width="1.0" /><line x1="-5.7" y1="0" x2="-5.7" y2="21" stroke="#1a1a1a" stroke-width="1.2" /><line x1="5.7" y1="0" x2="5.7" y2="21" stroke="#1a1a1a" stroke-width="1.2" /><line x1="-5.7" y1="3.6" x2="5.7" y2="1.6" stroke="#1a1a1a" stroke-width="0.6" /><line x1="-5.7" y1="6" x2="5.7" y2="4" stroke="#1a1a1a" stroke-width="0.6" /><line x1="-5.7" y1="8.4" x2="5.7" y2="6.4" stroke="#1a1a1a" stroke-width="0.6" /><line x1="-5.7" y1="10.8" x2="5.7" y2="8.8" stroke="#1a1a1a" stroke-width="0.6" /><line x1="-5.7" y1="13.2" x2="5.7" y2="11.2" stroke="#1a1a1a" stroke-width="0.6" /><line x1="-5.7" y1="15.6" x2="5.7" y2="13.6" stroke="#1a1a1a" stroke-width="0.6" /><line x1="-5.7" y1="18" x2="5.7" y2="16" stroke="#1a1a1a" stroke-width="0.6" /><path d="M-2 3L2.5 7M-3 9L3 14M-1 15L3 19" fill="none" stroke="#1a1a1a" stroke-width="0.6" /><path d="M-5.7 21Q-6 24 -9 25.5V32M5.7 21Q6 24 9 25.5V32" fill="none" stroke="#1a1a1a" stroke-width="1.2" /><path d="M-9 25.5A9 3.4 0 0 0 9 25.5" fill="none" stroke="#1a1a1a" stroke-width="0.7" /><path d="M-9 32A9 3.6 0 0 0 9 32" fill="none" stroke="#1a1a1a" stroke-width="1.2" /></g>
<path d="M732.3 880.3 L698 882.8 L689 918" fill="none" stroke="#444" stroke-width="0.6" stroke-linejoin="round" stroke-linecap="round" stroke-dasharray="8 2 2 2"/><path d="M686.6 926 L684.2 935" fill="none" stroke="#444" stroke-width="0.6" stroke-linejoin="round" stroke-linecap="round" /><path d="M734.8 880 L733 888.5" fill="none" stroke="#444" stroke-width="0.6" stroke-linejoin="round" stroke-linecap="round" stroke-dasharray="8 2 2 2"/><path d="M755.5 875 L748 898" fill="none" stroke="#444" stroke-width="0.6" stroke-linejoin="round" stroke-linecap="round" stroke-dasharray="8 2 2 2"/><g transform="translate(1066.4,273.2) rotate(14.3)"><ellipse cx="0" cy="0" rx="9.4" ry="4.14" fill="none" stroke="#1a1a1a" stroke-width="1.1" /><line x1="-9.4" y1="0" x2="-9.4" y2="12.4" stroke="#1a1a1a" stroke-width="1.1" /><line x1="9.4" y1="0" x2="9.4" y2="12.4" stroke="#1a1a1a" stroke-width="1.1" /><path d="M-9.4 12.4A9.4 4.14 0 0 0 9.4 12.4" fill="none" stroke="#1a1a1a" stroke-width="1.1" /><ellipse cx="0" cy="0.3" rx="4.6" ry="2.02" fill="none" stroke="#1a1a1a" stroke-width="0.9" /><path d="M-4.6 1.5A4.6 1.6 0 0 0 4.6 1.5" fill="none" stroke="#1a1a1a" stroke-width="0.7" /></g>
<line x1="1066.6" y1="273" x2="1055.2" y2="316" stroke="#555" stroke-width="0.5" stroke-dasharray="9 2 2 2"/><g transform="translate(1054.9,316.5) rotate(14.1)"><ellipse cx="0" cy="0" rx="2" ry="0.9" fill="none" stroke="#1a1a1a" stroke-width="0.8" /><line x1="-2" y1="0" x2="-2" y2="106.2" stroke="#1a1a1a" stroke-width="1.2" /><line x1="2" y1="0" x2="2" y2="106.2" stroke="#1a1a1a" stroke-width="1.2" /><path d="M-3.8 106.2H3.8" fill="none" stroke="#1a1a1a" stroke-width="0.9" /><line x1="-3.8" y1="106.2" x2="-3.8" y2="291" stroke="#1a1a1a" stroke-width="1.2" /><line x1="3.8" y1="106.2" x2="3.8" y2="291" stroke="#1a1a1a" stroke-width="1.2" /><ellipse cx="0" cy="293" rx="7.9" ry="3.48" fill="none" stroke="#1a1a1a" stroke-width="1.0" /><path d="M-6.2 294.2A6.2 2.73 0 0 0 6.2 294.2" fill="none" stroke="#1a1a1a" stroke-width="0.8" /><ellipse cx="0" cy="294.5" rx="12.6" ry="5.54" fill="none" stroke="#1a1a1a" stroke-width="1.2" /><ellipse cx="0" cy="298" rx="17.3" ry="7.61" fill="none" stroke="#1a1a1a" stroke-width="1.2" /><path d="M-17.3 300.5A17.3 7.61 0 0 0 17.3 300.5" fill="none" stroke="#444" stroke-width="0.7" /><path d="M-17.3 302.5A17.3 7.61 0 0 0 17.3 302.5" fill="none" stroke="#1a1a1a" stroke-width="1.2" /><path d="M-17.3 298V302.5M17.3 298V302.5" fill="none" stroke="#1a1a1a" stroke-width="1.2" /><path d="M-14.5 305A14.5 6.38 0 0 0 14.5 305" fill="none" stroke="#1a1a1a" stroke-width="1.0" /><path d="M-15.8 305.5L-12.7 310M15.8 305.5L12.7 310" fill="none" stroke="#1a1a1a" stroke-width="1.0" /><line x1="-12.7" y1="310" x2="-12.7" y2="509.7" stroke="#1a1a1a" stroke-width="1.3" /><line x1="12.7" y1="310" x2="12.7" y2="509.7" stroke="#1a1a1a" stroke-width="1.3" /><path d="M-12.7 316A12.7 5.59 0 0 0 12.7 316" fill="none" stroke="#444" stroke-width="0.6" stroke-dasharray="8 2"/><path d="M-12.7 335A12.7 5.59 0 0 0 12.7 335" fill="none" stroke="#444" stroke-width="0.6" stroke-dasharray="8 2"/><path d="M-12.7 497.5A12.7 5.59 0 0 0 12.7 497.5" fill="none" stroke="#444" stroke-width="0.6" /><path d="M-12.7 509.7A12.7 5.59 0 0 0 12.7 509.7" fill="none" stroke="#1a1a1a" stroke-width="1.3" /></g>
<g transform="translate(926.1,822) rotate(14.3)"><ellipse cx="0" cy="0" rx="8.7" ry="4" fill="none" stroke="#1a1a1a" stroke-width="1.3" /><ellipse cx="0" cy="0" rx="6.9" ry="2.9" fill="none" stroke="#1a1a1a" stroke-width="0.7" /></g>
<g transform="translate(924.5,831.3) rotate(14.3)"><ellipse cx="0" cy="0" rx="6.3" ry="3" fill="none" stroke="#1a1a1a" stroke-width="1.2" /><ellipse cx="0" cy="0" rx="3.6" ry="1.6" fill="none" stroke="#1a1a1a" stroke-width="1.0" /><path d="M-6.3 1.6A6.3 3 0 0 0 6.3 1.6" fill="none" stroke="#1a1a1a" stroke-width="1.0" /></g>
<g transform="translate(921.4,839.6) rotate(14.3)"><ellipse cx="0" cy="0" rx="8.6" ry="3.78" fill="none" stroke="#1a1a1a" stroke-width="1.1" /><ellipse cx="0" cy="0.5" rx="5.6" ry="2.46" fill="none" stroke="#1a1a1a" stroke-width="0.9" /><path d="M-8.8 2A8.8 3.87 0 0 0 8.8 2" fill="none" stroke="#1a1a1a" stroke-width="0.9" /><path d="M-8.8 4A8.8 3.87 0 0 0 8.8 4" fill="none" stroke="#1a1a1a" stroke-width="0.9" /><path d="M-8.8 6A8.8 3.87 0 0 0 8.8 6" fill="none" stroke="#1a1a1a" stroke-width="0.9" /><path d="M-8.8 8A8.8 3.87 0 0 0 8.8 8" fill="none" stroke="#1a1a1a" stroke-width="0.9" /><path d="M-8.8 10A8.8 3.87 0 0 0 8.8 10" fill="none" stroke="#1a1a1a" stroke-width="0.9" /><line x1="-8.8" y1="0" x2="-8.8" y2="11" stroke="#1a1a1a" stroke-width="1.0" /><line x1="8.8" y1="0" x2="8.8" y2="11" stroke="#1a1a1a" stroke-width="1.0" /><ellipse cx="0" cy="12.6" rx="11.4" ry="5.02" fill="none" stroke="#1a1a1a" stroke-width="1.2" /><path d="M-11.4 14.4A11.4 5.02 0 0 0 11.4 14.4" fill="none" stroke="#1a1a1a" stroke-width="1.2" /><path d="M-11.4 12.6V14.4M11.4 12.6V14.4" fill="none" stroke="#1a1a1a" stroke-width="1.1" /><line x1="-9.6" y1="16.5" x2="-9.6" y2="27.3" stroke="#1a1a1a" stroke-width="1.2" /><line x1="9.6" y1="16.5" x2="9.6" y2="27.3" stroke="#1a1a1a" stroke-width="1.2" /><path d="M-9.6 27.3A9.6 4.22 0 0 0 9.6 27.3" fill="none" stroke="#1a1a1a" stroke-width="1.2" /></g>
<g transform="translate(911.8,874.2) rotate(14.3)"><path d="M10.6 2.2A11.5 5.4 0 1 0 7.5 4.2" fill="none" stroke="#111" stroke-width="1.6"/><ellipse cx="9.2" cy="3.4" rx="1" ry="0.8" fill="none" stroke="#1a1a1a" stroke-width="0.8" /></g>
<g transform="translate(906.4,893.7) rotate(14.3)"><ellipse cx="0" cy="0" rx="8.3" ry="3.9" fill="none" stroke="#1a1a1a" stroke-width="1.4" /></g>
<line x1="930.5" y1="814" x2="903.5" y2="908" stroke="#555" stroke-width="0.5" stroke-dasharray="9 2 2 2"/><g transform="translate(1239,394.7) rotate(14.3)"><ellipse cx="0" cy="0" rx="12.4" ry="5.46" fill="none" stroke="#1a1a1a" stroke-width="1.1" /><ellipse cx="0" cy="0.5" rx="9.2" ry="4.05" fill="none" stroke="#1a1a1a" stroke-width="0.9" /><path d="M-7.5 1.6A7.5 2.6 0 0 0 7.5 1.6" fill="none" stroke="#444" stroke-width="0.7" /><line x1="-12.4" y1="0" x2="-12.4" y2="14.5" stroke="#1a1a1a" stroke-width="1.1" /><line x1="12.4" y1="0" x2="12.4" y2="14.5" stroke="#1a1a1a" stroke-width="1.1" /><path d="M-12.4 14.5Q-15.8 15.5 -15.8 18V22.5M12.4 15.8Q15.8 16.5 15.8 19V22.5" fill="none" stroke="#1a1a1a" stroke-width="1.1" /><path d="M-15.8 17A15.8 6.95 0 0 0 15.8 17" fill="none" stroke="#444" stroke-width="0.7" /><path d="M-15.8 22.5A15.8 6.95 0 0 0 15.8 22.5" fill="none" stroke="#1a1a1a" stroke-width="1.1" /><path d="M-14.6 25.2L-12.6 27.6M14.6 25.2L13 27.6" fill="none" stroke="#1a1a1a" stroke-width="0.9" /><path d="M-14.6 25.2A14.6 6.42 0 0 0 14.6 25.2" fill="none" stroke="#1a1a1a" stroke-width="0.9" /><path d="M-12.6 27.6A12.6 5.54 0 0 0 12.6 27.6" fill="none" stroke="#1a1a1a" stroke-width="1.0" /></g>
<g transform="translate(1228.2,434.5) rotate(14.3)"><ellipse cx="0" cy="0" rx="15.7" ry="6.91" fill="none" stroke="#1a1a1a" stroke-width="1.1" /><ellipse cx="0" cy="0" rx="11.2" ry="4.93" fill="none" stroke="#1a1a1a" stroke-width="1.0" /><path d="M-15.7 1.6A15.7 6.91 0 0 0 15.7 1.6" fill="none" stroke="#1a1a1a" stroke-width="1.1" /></g>
<g transform="translate(1225.2,448.2) rotate(14.3)"><path d="M-14.8 2.6A14.8 6.51 0 0 1 14.8 2.6" fill="none" stroke="#111" stroke-width="2.6" /><path d="M-14.8 2.6A14.8 6.51 0 0 1 14.8 2.6" fill="none" stroke="#fff" stroke-width="0.8" /><path d="M-14.8 8.22A14.8 6.51 0 0 1 14.8 8.22" fill="none" stroke="#111" stroke-width="2.6" /><path d="M-14.8 8.22A14.8 6.51 0 0 1 14.8 8.22" fill="none" stroke="#fff" stroke-width="0.8" /><path d="M-14.8 13.84A14.8 6.51 0 0 1 14.8 13.84" fill="none" stroke="#111" stroke-width="2.6" /><path d="M-14.8 13.84A14.8 6.51 0 0 1 14.8 13.84" fill="none" stroke="#fff" stroke-width="0.8" /><path d="M-14.8 19.46A14.8 6.51 0 0 1 14.8 19.46" fill="none" stroke="#111" stroke-width="2.6" /><path d="M-14.8 19.46A14.8 6.51 0 0 1 14.8 19.46" fill="none" stroke="#fff" stroke-width="0.8" /><path d="M-14.8 25.08A14.8 6.51 0 0 1 14.8 25.08" fill="none" stroke="#111" stroke-width="2.6" /><path d="M-14.8 25.08A14.8 6.51 0 0 1 14.8 25.08" fill="none" stroke="#fff" stroke-width="0.8" /><path d="M-14.8 30.7A14.8 6.51 0 0 1 14.8 30.7" fill="none" stroke="#111" stroke-width="2.6" /><path d="M-14.8 30.7A14.8 6.51 0 0 1 14.8 30.7" fill="none" stroke="#fff" stroke-width="0.8" /><path d="M-14.8 36.32A14.8 6.51 0 0 1 14.8 36.32" fill="none" stroke="#111" stroke-width="2.6" /><path d="M-14.8 36.32A14.8 6.51 0 0 1 14.8 36.32" fill="none" stroke="#fff" stroke-width="0.8" /><path d="M-14.8 41.94A14.8 6.51 0 0 1 14.8 41.94" fill="none" stroke="#111" stroke-width="2.6" /><path d="M-14.8 41.94A14.8 6.51 0 0 1 14.8 41.94" fill="none" stroke="#fff" stroke-width="0.8" /><path d="M-14.8 47.56A14.8 6.51 0 0 1 14.8 47.56" fill="none" stroke="#111" stroke-width="2.6" /><path d="M-14.8 47.56A14.8 6.51 0 0 1 14.8 47.56" fill="none" stroke="#fff" stroke-width="0.8" /><path d="M-14.8 53.18A14.8 6.51 0 0 1 14.8 53.18" fill="none" stroke="#111" stroke-width="2.6" /><path d="M-14.8 53.18A14.8 6.51 0 0 1 14.8 53.18" fill="none" stroke="#fff" stroke-width="0.8" /><path d="M-14.8 58.8A14.8 6.51 0 0 1 14.8 58.8" fill="none" stroke="#111" stroke-width="2.6" /><path d="M-14.8 58.8A14.8 6.51 0 0 1 14.8 58.8" fill="none" stroke="#fff" stroke-width="0.8" /><path d="M-14.8 64.42A14.8 6.51 0 0 1 14.8 64.42" fill="none" stroke="#111" stroke-width="2.6" /><path d="M-14.8 64.42A14.8 6.51 0 0 1 14.8 64.42" fill="none" stroke="#fff" stroke-width="0.8" /><path d="M-14.8 70.04A14.8 6.51 0 0 1 14.8 70.04" fill="none" stroke="#111" stroke-width="2.6" /><path d="M-14.8 70.04A14.8 6.51 0 0 1 14.8 70.04" fill="none" stroke="#fff" stroke-width="0.8" /><path d="M-14.8 75.66A14.8 6.51 0 0 1 14.8 75.66" fill="none" stroke="#111" stroke-width="2.6" /><path d="M-14.8 75.66A14.8 6.51 0 0 1 14.8 75.66" fill="none" stroke="#fff" stroke-width="0.8" /><path d="M-15.4 0A15.4 6.78 0 0 0 15.4 0" fill="none" stroke="#111" stroke-width="3.9" /><path d="M-15.4 0A15.4 6.78 0 0 0 15.4 0" fill="none" stroke="#fff" stroke-width="1.0" /><path d="M-15.4 0A1.8 1.8 0 0 1 -15.4 0.1" fill="none" stroke="#1a1a1a" stroke-width="3.4" /><path d="M-15.4 5.62A15.4 6.78 0 0 0 15.4 5.62" fill="none" stroke="#111" stroke-width="3.9" /><path d="M-15.4 5.62A15.4 6.78 0 0 0 15.4 5.62" fill="none" stroke="#fff" stroke-width="1.0" /><path d="M-15.4 5.62A1.8 1.8 0 0 1 -15.4 5.72" fill="none" stroke="#1a1a1a" stroke-width="3.4" /><path d="M-15.4 11.24A15.4 6.78 0 0 0 15.4 11.24" fill="none" stroke="#111" stroke-width="3.9" /><path d="M-15.4 11.24A15.4 6.78 0 0 0 15.4 11.24" fill="none" stroke="#fff" stroke-width="1.0" /><path d="M-15.4 11.24A1.8 1.8 0 0 1 -15.4 11.34" fill="none" stroke="#1a1a1a" stroke-width="3.4" /><path d="M-15.4 16.86A15.4 6.78 0 0 0 15.4 16.86" fill="none" stroke="#111" stroke-width="3.9" /><path d="M-15.4 16.86A15.4 6.78 0 0 0 15.4 16.86" fill="none" stroke="#fff" stroke-width="1.0" /><path d="M-15.4 16.86A1.8 1.8 0 0 1 -15.4 16.96" fill="none" stroke="#1a1a1a" stroke-width="3.4" /><path d="M-15.4 22.48A15.4 6.78 0 0 0 15.4 22.48" fill="none" stroke="#111" stroke-width="3.9" /><path d="M-15.4 22.48A15.4 6.78 0 0 0 15.4 22.48" fill="none" stroke="#fff" stroke-width="1.0" /><path d="M-15.4 22.48A1.8 1.8 0 0 1 -15.4 22.58" fill="none" stroke="#1a1a1a" stroke-width="3.4" /><path d="M-15.4 28.1A15.4 6.78 0 0 0 15.4 28.1" fill="none" stroke="#111" stroke-width="3.9" /><path d="M-15.4 28.1A15.4 6.78 0 0 0 15.4 28.1" fill="none" stroke="#fff" stroke-width="1.0" /><path d="M-15.4 28.1A1.8 1.8 0 0 1 -15.4 28.2" fill="none" stroke="#1a1a1a" stroke-width="3.4" /><path d="M-15.4 33.72A15.4 6.78 0 0 0 15.4 33.72" fill="none" stroke="#111" stroke-width="3.9" /><path d="M-15.4 33.72A15.4 6.78 0 0 0 15.4 33.72" fill="none" stroke="#fff" stroke-width="1.0" /><path d="M-15.4 33.72A1.8 1.8 0 0 1 -15.4 33.82" fill="none" stroke="#1a1a1a" stroke-width="3.4" /><path d="M-15.4 39.34A15.4 6.78 0 0 0 15.4 39.34" fill="none" stroke="#111" stroke-width="3.9" /><path d="M-15.4 39.34A15.4 6.78 0 0 0 15.4 39.34" fill="none" stroke="#fff" stroke-width="1.0" /><path d="M-15.4 39.34A1.8 1.8 0 0 1 -15.4 39.44" fill="none" stroke="#1a1a1a" stroke-width="3.4" /><path d="M-15.4 44.96A15.4 6.78 0 0 0 15.4 44.96" fill="none" stroke="#111" stroke-width="3.9" /><path d="M-15.4 44.96A15.4 6.78 0 0 0 15.4 44.96" fill="none" stroke="#fff" stroke-width="1.0" /><path d="M-15.4 44.96A1.8 1.8 0 0 1 -15.4 45.06" fill="none" stroke="#1a1a1a" stroke-width="3.4" /><path d="M-15.4 50.58A15.4 6.78 0 0 0 15.4 50.58" fill="none" stroke="#111" stroke-width="3.9" /><path d="M-15.4 50.58A15.4 6.78 0 0 0 15.4 50.58" fill="none" stroke="#fff" stroke-width="1.0" /><path d="M-15.4 50.58A1.8 1.8 0 0 1 -15.4 50.68" fill="none" stroke="#1a1a1a" stroke-width="3.4" /><path d="M-15.4 56.2A15.4 6.78 0 0 0 15.4 56.2" fill="none" stroke="#111" stroke-width="3.9" /><path d="M-15.4 56.2A15.4 6.78 0 0 0 15.4 56.2" fill="none" stroke="#fff" stroke-width="1.0" /><path d="M-15.4 56.2A1.8 1.8 0 0 1 -15.4 56.3" fill="none" stroke="#1a1a1a" stroke-width="3.4" /><path d="M-15.4 61.82A15.4 6.78 0 0 0 15.4 61.82" fill="none" stroke="#111" stroke-width="3.9" /><path d="M-15.4 61.82A15.4 6.78 0 0 0 15.4 61.82" fill="none" stroke="#fff" stroke-width="1.0" /><path d="M-15.4 61.82A1.8 1.8 0 0 1 -15.4 61.92" fill="none" stroke="#1a1a1a" stroke-width="3.4" /><path d="M-15.4 67.44A15.4 6.78 0 0 0 15.4 67.44" fill="none" stroke="#111" stroke-width="3.9" /><path d="M-15.4 67.44A15.4 6.78 0 0 0 15.4 67.44" fill="none" stroke="#fff" stroke-width="1.0" /><path d="M-15.4 67.44A1.8 1.8 0 0 1 -15.4 67.54" fill="none" stroke="#1a1a1a" stroke-width="3.4" /><path d="M-15.4 73.06A15.4 6.78 0 0 0 15.4 73.06" fill="none" stroke="#111" stroke-width="3.9" /><path d="M-15.4 73.06A15.4 6.78 0 0 0 15.4 73.06" fill="none" stroke="#fff" stroke-width="1.0" /><path d="M-15.4 73.06A1.8 1.8 0 0 1 -15.4 73.16" fill="none" stroke="#1a1a1a" stroke-width="3.4" /><ellipse cx="0" cy="0" rx="15.4" ry="6.78" fill="none" stroke="#111" stroke-width="3.6" /><ellipse cx="0" cy="0" rx="15.4" ry="6.78" fill="none" stroke="#fff" stroke-width="1.2" /><ellipse cx="0" cy="1" rx="11" ry="4.84" fill="none" stroke="#111" stroke-width="2.6" /><ellipse cx="0" cy="1" rx="11" ry="4.84" fill="none" stroke="#fff" stroke-width="0.8" /></g>
<g transform="translate(1201.2,534.4) rotate(14.3)"><ellipse cx="0" cy="0" rx="12.3" ry="5.41" fill="none" stroke="#1a1a1a" stroke-width="1.1" /><ellipse cx="0" cy="0.6" rx="9.6" ry="4.22" fill="none" stroke="#1a1a1a" stroke-width="0.9" /><path d="M-9.6 2.4A9.6 4.22 0 0 0 9.6 2.4" fill="none" stroke="#444" stroke-width="0.7" /><path d="M-12.3 0L-13 8L-16.3 11M12.3 0L13 9L16.3 12" fill="none" stroke="#1a1a1a" stroke-width="1.1" /><path d="M-13 8.5A13 5.72 0 0 0 13 8.5" fill="none" stroke="#1a1a1a" stroke-width="0.8" /><ellipse cx="0" cy="0" rx="0" ry="0" fill="none" stroke="#1a1a1a" stroke-width="1.1" /><path d="M-16.3 11.5A16.3 7.17 0 0 0 16.3 11.5" fill="none" stroke="#1a1a1a" stroke-width="1.1" /><path d="M-16.3 14.5A16.3 7.17 0 0 0 16.3 14.5" fill="none" stroke="#1a1a1a" stroke-width="1.1" /><path d="M-16.3 11.5V14.5M16.3 11.5V14.5" fill="none" stroke="#1a1a1a" stroke-width="1.1" /><path d="M-16.3 14.5L-13.2 17M16.3 14.5L13.2 17" fill="none" stroke="#1a1a1a" stroke-width="0.9" /><line x1="-13.2" y1="17" x2="-13.2" y2="22.5" stroke="#1a1a1a" stroke-width="1.1" /><line x1="13.2" y1="17" x2="13.2" y2="22.5" stroke="#1a1a1a" stroke-width="1.1" /><path d="M-13.2 19A13.2 5.81 0 0 0 13.2 19" fill="none" stroke="#444" stroke-width="0.7" /><path d="M-13.2 22.5A13.2 5.81 0 0 0 13.2 22.5" fill="none" stroke="#1a1a1a" stroke-width="1.1" /></g>
<g transform="translate(1193.1,572.2) rotate(14.3)"><ellipse cx="0" cy="0" rx="16.2" ry="7.13" fill="none" stroke="#1a1a1a" stroke-width="1.3" /><ellipse cx="0" cy="0.6" rx="13.4" ry="5.9" fill="none" stroke="#1a1a1a" stroke-width="0.9" /><line x1="-16.2" y1="0" x2="-16.2" y2="88.9" stroke="#1a1a1a" stroke-width="1.3" /><line x1="16.2" y1="0" x2="16.2" y2="88.9" stroke="#1a1a1a" stroke-width="1.3" /><path d="M-16.2 88.9A16.2 7.13 0 0 0 16.2 88.9" fill="none" stroke="#1a1a1a" stroke-width="1.3" /></g>
<g transform="translate(1166.7,673.4) rotate(14.3)"><ellipse cx="0" cy="0" rx="11.8" ry="5.19" fill="none" stroke="#1a1a1a" stroke-width="1.1" /><ellipse cx="0" cy="0.5" rx="8.6" ry="3.78" fill="none" stroke="#1a1a1a" stroke-width="0.9" /><path d="M-11.8 0L-12.3 7L-16.4 10M11.8 0L12.3 7.8L16.4 10.8" fill="none" stroke="#1a1a1a" stroke-width="1.1" /><path d="M-12 4A12 5.28 0 0 0 12 4" fill="none" stroke="#444" stroke-width="0.7" /><path d="M-12.3 7.3A12.3 5.41 0 0 0 12.3 7.3" fill="none" stroke="#1a1a1a" stroke-width="0.8" /><path d="M-16.4 10.4A16.4 7.22 0 0 0 16.4 10.4" fill="none" stroke="#1a1a1a" stroke-width="1.1" /><path d="M-16.4 13.2A16.4 7.22 0 0 0 16.4 13.2" fill="none" stroke="#1a1a1a" stroke-width="1.2" /><path d="M-16.4 10.4V13.2M16.4 10.4V13.2" fill="none" stroke="#1a1a1a" stroke-width="1.1" /><path d="M-14 15.2A14 6.16 0 0 0 14 15.2" fill="none" stroke="#1a1a1a" stroke-width="0.9" /></g>
<line x1="1197.5" y1="557" x2="1194" y2="570" stroke="#555" stroke-width="0.5" /><line x1="1170.5" y1="661" x2="1167.5" y2="673" stroke="#555" stroke-width="0.5" /><g transform="translate(1428.5,200.6) rotate(14.3)"><ellipse cx="0" cy="0" rx="10.8" ry="4.75" fill="none" stroke="#1a1a1a" stroke-width="1.1" /><ellipse cx="0.3" cy="0.3" rx="5.2" ry="2.6" fill="none" stroke="#1a1a1a" stroke-width="0.9" /><ellipse cx="0.3" cy="0.5" rx="3" ry="1.5" fill="none" stroke="#1a1a1a" stroke-width="0.8" /><path d="M-10.8 0V7.2M10.8 0V7.2" fill="none" stroke="#1a1a1a" stroke-width="1.1" /><path d="M-10.8 3.5A10.8 4.75 0 0 0 10.8 3.5" fill="none" stroke="#444" stroke-width="0.7" /><path d="M-10.8 7.2A10.8 4.75 0 0 0 10.8 7.2" fill="none" stroke="#1a1a1a" stroke-width="1.1" /><path d="M-8.8 9.5V13M8.8 10V13.5" fill="none" stroke="#1a1a1a" stroke-width="1.1" /><path d="M-8.8 10.3A8.8 3.87 0 0 0 8.8 10.3" fill="none" stroke="#1a1a1a" stroke-width="0.9" /><path d="M-8.8 13.2A8.8 3.87 0 0 0 8.8 13.2" fill="none" stroke="#1a1a1a" stroke-width="1.1" /><path d="M-7 15.2L-5.7 17.5M7.4 15.6L5.7 18" fill="none" stroke="#1a1a1a" stroke-width="1.1" /><path d="M-7.2 16.2A7.2 3.17 0 0 0 7.2 16.2" fill="none" stroke="#1a1a1a" stroke-width="0.9" /><line x1="-5.7" y1="17.5" x2="-5.7" y2="43.6" stroke="#1a1a1a" stroke-width="1.2" /><line x1="5.7" y1="17.5" x2="5.7" y2="43.6" stroke="#1a1a1a" stroke-width="1.2" /><path d="M-5.7 43.6A5.7 2.51 0 0 0 5.7 43.6" fill="none" stroke="#1a1a1a" stroke-width="1.2" /></g>
<g transform="translate(1416.6,248.6) rotate(14.3)"><ellipse cx="0" cy="0" rx="5.7" ry="2.7" fill="none" stroke="#1a1a1a" stroke-width="1.4" /></g>
<g transform="translate(1415,253.9) rotate(14.3)"><ellipse cx="0" cy="0" rx="4.1" ry="1.8" fill="none" stroke="#1a1a1a" stroke-width="1.0" /><line x1="-4.1" y1="0" x2="-4.1" y2="14.5" stroke="#1a1a1a" stroke-width="1.1" /><line x1="4.1" y1="0" x2="4.1" y2="14.5" stroke="#1a1a1a" stroke-width="1.1" /><path d="M-5 14.5A5 2 0 0 0 5 14.5" fill="none" stroke="#1a1a1a" stroke-width="1.1" /><path d="M-5 14.5V18.5M5 14.5V18.5" fill="none" stroke="#1a1a1a" stroke-width="1.1" /><path d="M-5 16.5A5 2 0 0 0 5 16.5" fill="none" stroke="#1a1a1a" stroke-width="0.7" /><path d="M-5 18.5A5 2 0 0 0 5 18.5" fill="none" stroke="#1a1a1a" stroke-width="1.1" /><line x1="-4.5" y1="19.5" x2="-4.5" y2="31.8" stroke="#1a1a1a" stroke-width="1.1" /><line x1="4.5" y1="19.5" x2="4.5" y2="31.8" stroke="#1a1a1a" stroke-width="1.1" /><path d="M-4.5 24A4.5 1.9 0 0 0 4.5 24" fill="none" stroke="#1a1a1a" stroke-width="0.8" /><path d="M-4.5 31.8A4.5 1.9 0 0 0 4.5 31.8" fill="none" stroke="#1a1a1a" stroke-width="1.1" /></g>
<g transform="translate(1404.4,293.2) rotate(14.3)"><ellipse cx="0" cy="0" rx="12.8" ry="5.63" fill="none" stroke="#1a1a1a" stroke-width="1.1" /><ellipse cx="0" cy="0.8" rx="9.6" ry="4.22" fill="none" stroke="#1a1a1a" stroke-width="1.0" /><path d="M-8.2 3.2A8.2 3 0 0 0 8.2 3.2" fill="none" stroke="#444" stroke-width="0.7" /><path d="M-3 -1L2 4M3.5 -0.5L-2 4.2M-5.5 2.5H5" fill="none" stroke="#444" stroke-width="0.6" /><line x1="-12.8" y1="0" x2="-12.8" y2="8.5" stroke="#1a1a1a" stroke-width="1.1" /><line x1="12.8" y1="0" x2="12.8" y2="8.5" stroke="#1a1a1a" stroke-width="1.1" /><path d="M-12.8 8.5A12.8 5.63 0 0 0 12.8 8.5" fill="none" stroke="#1a1a1a" stroke-width="0.9" /><ellipse cx="0" cy="11.8" rx="21.8" ry="9.59" fill="none" stroke="#1a1a1a" stroke-width="1.1" /><ellipse cx="0" cy="11.2" rx="17.6" ry="7.74" fill="none" stroke="#1a1a1a" stroke-width="0.9" /><path d="M-21.8 11.8V15.5M21.8 11.8V15.5" fill="none" stroke="#1a1a1a" stroke-width="1.1" /><path d="M-21.8 15.5A21.8 9.59 0 0 0 21.8 15.5" fill="none" stroke="#1a1a1a" stroke-width="1.1" /><path d="M-20.4 18A20.4 8.98 0 0 0 20.4 18" fill="none" stroke="#1a1a1a" stroke-width="0.9" /><path d="M-20.4 20.2A20.4 8.98 0 0 0 20.4 20.2" fill="none" stroke="#1a1a1a" stroke-width="0.9" /><path d="M-20.4 22.4A20.4 8.98 0 0 0 20.4 22.4" fill="none" stroke="#1a1a1a" stroke-width="1.0" /><path d="M-20.4 17V22.4M20.4 17V22.4" fill="none" stroke="#1a1a1a" stroke-width="1.1" /><path d="M-20.4 22.4L-17.2 25V30M20.4 22.4L17.2 25V30" fill="none" stroke="#1a1a1a" stroke-width="1.1" /><path d="M-17.2 25.2A17.2 7.57 0 0 0 17.2 25.2" fill="none" stroke="#1a1a1a" stroke-width="0.8" /><path d="M-17.2 30A17.2 7.57 0 0 0 17.2 30" fill="none" stroke="#1a1a1a" stroke-width="1.1" /><path d="M-17.2 30L-14 32V41.5M17.2 30L14 32V41.5" fill="none" stroke="#1a1a1a" stroke-width="1.1" /><path d="M-14 32.4A14 6.16 0 0 0 14 32.4" fill="none" stroke="#1a1a1a" stroke-width="0.8" /><path d="M-14 41.5A14 6.16 0 0 0 14 41.5" fill="none" stroke="#1a1a1a" stroke-width="1.2" /></g>
<g transform="translate(1389.4,352.3) rotate(14.3)"><ellipse cx="0" cy="0" rx="21.2" ry="9.2" fill="none" stroke="#111" stroke-width="2.0" /></g>
<g transform="translate(1383.1,375.8) rotate(14.3)"><ellipse cx="0" cy="0" rx="21.9" ry="9.64" fill="none" stroke="#1a1a1a" stroke-width="1.2" /><ellipse cx="0" cy="0.8" rx="17.4" ry="7.66" fill="none" stroke="#1a1a1a" stroke-width="1.0" /><path d="M-21.9 2.3A21.9 9.64 0 0 0 21.9 2.3" fill="none" stroke="#333" stroke-width="0.7" stroke-dasharray="6 1.2"/><path d="M-21.9 4.6A21.9 9.64 0 0 0 21.9 4.6" fill="none" stroke="#333" stroke-width="0.7" stroke-dasharray="6 1.2"/><path d="M-21.9 6.9A21.9 9.64 0 0 0 21.9 6.9" fill="none" stroke="#333" stroke-width="0.7" stroke-dasharray="6 1.2"/><path d="M-21.9 9.2A21.9 9.64 0 0 0 21.9 9.2" fill="none" stroke="#333" stroke-width="0.7" stroke-dasharray="6 1.2"/><path d="M-21.9 11.5A21.9 9.64 0 0 0 21.9 11.5" fill="none" stroke="#333" stroke-width="0.7" stroke-dasharray="6 1.2"/><path d="M-21.9 13.8A21.9 9.64 0 0 0 21.9 13.8" fill="none" stroke="#333" stroke-width="0.7" stroke-dasharray="6 1.2"/><path d="M-21.9 16.1A21.9 9.64 0 0 0 21.9 16.1" fill="none" stroke="#333" stroke-width="0.7" stroke-dasharray="6 1.2"/><g clip-path="url(#c24)"><path d="M-17.4 3.1A17.4 7.66 0 0 1 17.4 3.1" fill="none" stroke="#333" stroke-width="0.7" stroke-dasharray="5 1.2"/></g><g clip-path="url(#c24)"><path d="M-17.4 5.4A17.4 7.66 0 0 1 17.4 5.4" fill="none" stroke="#333" stroke-width="0.7" stroke-dasharray="5 1.2"/></g><g clip-path="url(#c24)"><path d="M-17.4 7.7A17.4 7.66 0 0 1 17.4 7.7" fill="none" stroke="#333" stroke-width="0.7" stroke-dasharray="5 1.2"/></g><g clip-path="url(#c24)"><path d="M-17.4 10A17.4 7.66 0 0 1 17.4 10" fill="none" stroke="#333" stroke-width="0.7" stroke-dasharray="5 1.2"/></g><g clip-path="url(#c24)"><path d="M-17.4 12.3A17.4 7.66 0 0 1 17.4 12.3" fill="none" stroke="#333" stroke-width="0.7" stroke-dasharray="5 1.2"/></g><line x1="-21.9" y1="0" x2="-21.9" y2="68.4" stroke="#1a1a1a" stroke-width="1.3" /><line x1="21.9" y1="0" x2="21.9" y2="68.4" stroke="#1a1a1a" stroke-width="1.3" /><path d="M-21.9 68.4A21.9 9.64 0 0 0 21.9 68.4" fill="none" stroke="#1a1a1a" stroke-width="1.3" /><path d="M-20.9 71A20.9 9.2 0 0 0 20.9 71" fill="none" stroke="#444" stroke-width="0.6" /><line x1="-20.9" y1="69.5" x2="-20.9" y2="146.7" stroke="#1a1a1a" stroke-width="1.3" /><line x1="20.9" y1="69.5" x2="20.9" y2="146.7" stroke="#1a1a1a" stroke-width="1.3" /><path d="M-21.3 146.7A21.3 9.37 0 0 0 21.3 146.7" fill="none" stroke="#1a1a1a" stroke-width="1.3" /><path d="M-21.3 149.5A21.3 9.37 0 0 0 21.3 149.5" fill="none" stroke="#444" stroke-width="0.6" /><line x1="-21.3" y1="147.5" x2="-21.3" y2="302" stroke="#1a1a1a" stroke-width="1.3" /><line x1="21.3" y1="147.5" x2="21.3" y2="302" stroke="#1a1a1a" stroke-width="1.3" /><path d="M-21.3 236.5A21.3 9.37 0 0 0 21.3 236.5" fill="none" stroke="#555" stroke-width="0.5" stroke-dasharray="10 2 2 2"/><path d="M-22 302A22 9.68 0 0 0 22 302" fill="none" stroke="#1a1a1a" stroke-width="1.1" /><path d="M-24 315.6A24 10.56 0 0 0 24 315.6" fill="none" stroke="#1a1a1a" stroke-width="1.1" /><path d="M-25 329.7A25 11 0 0 0 25 329.7" fill="none" stroke="#1a1a1a" stroke-width="1.1" /><path d="M-27 339.5A27 11.88 0 0 0 27 339.5" fill="none" stroke="#1a1a1a" stroke-width="1.1" /><path d="M-21.3 302L-22 302Q-23 309 -24 315.6Q-24.6 323 -25 329.7Q-26.5 335 -27 339.5L-27.2 356Q-27 360 -25.8 362M21.3 302L22 302Q23 309 24 315.6Q24.6 323 25 329.7Q26 335 26.8 339.5L26.6 357Q26.4 361 25.5 363" fill="none" stroke="#1a1a1a" stroke-width="1.2" /><path d="M-26.3 360.5A26.3 11.57 0 0 0 26.3 360.5" fill="none" stroke="#1a1a1a" stroke-width="1.2" /><path d="M-25.2 363.4A25.2 11.09 0 0 0 25.2 363.4" fill="none" stroke="#1a1a1a" stroke-width="1.0" /></g>
<line x1="1394" y1="336" x2="1382" y2="383" stroke="#333" stroke-width="0.6" /><path d="M764.4 282.3 L742.4 282.3 L742.4 618.8 L786.5 618.8" fill="none" stroke="#111" stroke-width="1.1"/><path d="M700 447.8 L742.4 447.8" fill="none" stroke="#111" stroke-width="1.1"/><path d="M789.7 282.3 L864.8 282.3" fill="none" stroke="#111" stroke-width="1.2"/><path d="M742.4 313.6 L764.4 313.6" fill="none" stroke="#333" stroke-width="0.8"/><path d="M789.7 313.6 L855 313.6" fill="none" stroke="#333" stroke-width="0.8"/><path d="M742.4 335.3 L764.4 335.3" fill="none" stroke="#333" stroke-width="0.8"/><path d="M789.7 335.3 L847.6 335.3" fill="none" stroke="#333" stroke-width="0.8"/><path d="M742.4 355.3 L764.4 355.3" fill="none" stroke="#333" stroke-width="0.8"/><path d="M789.7 355.3 L841.9 355.3" fill="none" stroke="#333" stroke-width="0.8"/><path d="M742.4 398.6 L764.4 398.6" fill="none" stroke="#333" stroke-width="0.8"/><path d="M789.7 398.6 L828.1 398.6" fill="none" stroke="#333" stroke-width="0.8"/><path d="M742.4 378.3 L764.4 378.3" fill="none" stroke="#111" stroke-width="1.2"/><path d="M789.7 378.3 L837.9 378.3" fill="none" stroke="#111" stroke-width="1.2"/><path d="M660.5 670.3 L660.5 740.8" fill="none" stroke="#333" stroke-width="0.8"/><path d="M710.3 670.3 L710.3 704.5" fill="none" stroke="#333" stroke-width="0.8"/><path d="M741.6 670.3 L741.6 695.7" fill="none" stroke="#333" stroke-width="0.8"/><path d="M679.6 770.1 L660.6 790.2 L678.4 782.7" fill="none" stroke="#333" stroke-width="0.8"/><path d="M660.4 790 L660.4 832" fill="none" stroke="#333" stroke-width="0.8"/><path d="M700.8 798.2 L685.9 809.7 L685.9 832" fill="none" stroke="#333" stroke-width="0.8"/><path d="M639.5 919.3 L679 919.3" fill="none" stroke="#333" stroke-width="0.8"/><path d="M639.5 950.3 L674 950.3" fill="none" stroke="#333" stroke-width="0.8"/><path d="M748 909.3 L781 909.3" fill="none" stroke="#111" stroke-width="1.1"/><path d="M1074.5 281.2 L1101.3 281.2" fill="none" stroke="#333" stroke-width="0.8"/><path d="M1127.2 281.2 L1161.8 281.2 L1011.8 850.4 L1003.5 850.4" fill="none" stroke="#333" stroke-width="0.8"/><path d="M929.6 850.4 L984.7 850.4" fill="none" stroke="#333" stroke-width="0.8"/><path d="M992 565.5 L1116 565.5" fill="none" stroke="#333" stroke-width="0.8"/><path d="M934.8 824.2 L950.5 824.2" fill="none" stroke="#333" stroke-width="0.8"/><path d="M969.3 824.2 L982.3 824.2 L970.4 878.2 L959.6 878.2" fill="none" stroke="#333" stroke-width="0.8"/><path d="M924 878.2 L941.5 878.2" fill="none" stroke="#333" stroke-width="0.8"/><path d="M915.3 895 L940 895" fill="none" stroke="#888" stroke-width="1.1"/><path d="M1250.4 330.5 L1234.6 389.3" fill="none" stroke="#333" stroke-width="0.8"/><path d="M1277.3 412 L1271.9 431.1 L1245.9 439.5" fill="none" stroke="#333" stroke-width="0.8"/><path d="M1235.6 481 L1253.4 481" fill="none" stroke="#111" stroke-width="1.2"/><path d="M1219 548.2 L1242.6 548.2 L1216.5 656" fill="none" stroke="#333" stroke-width="0.8"/><path d="M1197 629.8 L1222.8 629.8" fill="none" stroke="#333" stroke-width="0.8"/><path d="M1170.1 692.4 L1170.1 740.3" fill="none" stroke="#777" stroke-width="1.1"/><path d="M1416.2 223.6 L1323.4 223.6 L1323.4 349.2 L1333.2 349.2" fill="none" stroke="#333" stroke-width="0.8"/><path d="M1323.4 247.8 L1333.2 247.8" fill="none" stroke="#333" stroke-width="0.8"/><path d="M1360.9 247.8 L1410.7 247.8" fill="none" stroke="#333" stroke-width="0.8"/><path d="M1323.4 272.7 L1405.7 272.7" fill="none" stroke="#333" stroke-width="0.8"/><path d="M1323.4 297 L1381.5 297" fill="none" stroke="#333" stroke-width="0.8"/><path d="M1288.2 282.3 L1323.4 282.3" fill="none" stroke="#333" stroke-width="0.8"/><path d="M1359 349.2 L1368.8 349.2" fill="none" stroke="#333" stroke-width="0.8"/><path d="M1356.4 539.2 L1410.3 539.2" fill="none" stroke="#333" stroke-width="0.8"/>
<g font-family="Liberation Sans, sans-serif" font-weight="bold" font-size="14" fill="#111" text-anchor="middle">
<text x="777" y="287.05">8</text><text x="777" y="318.35">13</text><text x="777" y="340.05">12</text><text x="777" y="360.05">11</text><text x="777" y="383.05">10</text><text x="777" y="403.35">9</text><text x="692" y="452.75">4</text><text x="660.5" y="664.05">28</text><text x="710.3" y="664.05">7</text><text x="741.6" y="664.05">6</text><text x="659.5" y="846.75">7</text><text x="686.5" y="846.75">5</text><text x="628.8" y="924.45">2</text><text x="628.8" y="955.25">1</text><text x="789.5" y="914.45">3</text><text x="1114.3" y="286.25">14</text><text x="1128" y="569.75">15</text><text x="959.6" y="829.05">16</text><text x="993.7" y="855.55">18</text><text x="950.1" y="883.15">17</text><text x="950.1" y="899.85">29</text><text x="1252" y="325.15">23</text><text x="1278.3" y="406.85">22</text><text x="1264.8" y="485.75">21</text><text x="1213.2" y="670.75">20</text><text x="1168.9" y="755.75">19</text><text x="1347.1" y="253.05">26</text><text x="1276.3" y="286.65">27</text><text x="1347" y="354.15">25</text><text x="1422.8" y="543.95">24</text>
</g>
<path d="M534 1127H602.5A35.5 35.5 0 0 1 602.5 1198H534Z" fill="#5b6a6d"/>
<text x="567.6" y="1163.3" font-family="Liberation Sans, sans-serif" font-weight="bold" font-size="26.3" fill="#fff">B04</text>
<rect x="568.4" y="1174.4" width="13.6" height="12.6" rx="3" fill="#fff"/>
<text x="575.2" y="1184.2" text-anchor="middle" font-family="Liberation Sans, sans-serif" font-size="9.5" fill="#5b6a6d">0</text>
</svg>
</body></html>
